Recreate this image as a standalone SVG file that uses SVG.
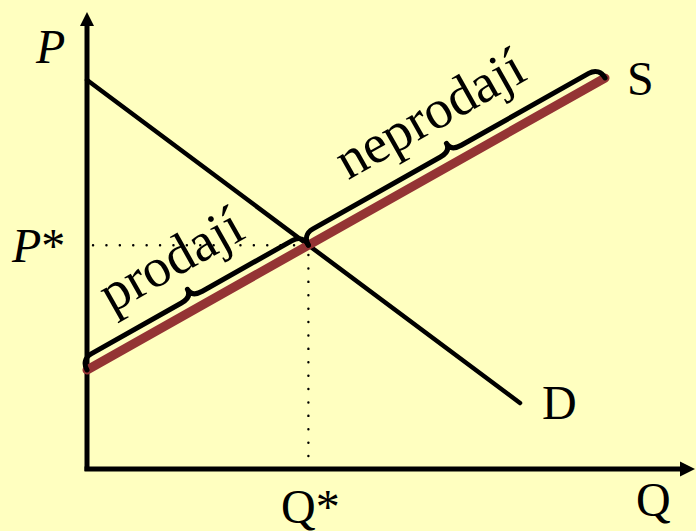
<svg xmlns="http://www.w3.org/2000/svg" width="696" height="531" viewBox="0 0 696 531">
<style>
text{font-family:'Liberation Serif','DejaVu Serif','Noto Serif','Times New Roman',serif;font-size:48px;fill:#000}
.it{font-style:italic}
.rot{font-size:55px}
.ax{stroke:#000;stroke-width:5;fill:none}
.brace{stroke:#000;stroke-width:5;fill:none;stroke-linecap:round;stroke-linejoin:round}
.dot{stroke:#000;stroke-width:2.4;stroke-dasharray:0.1 13.3;stroke-linecap:round;fill:none}
</style>
<rect width="696" height="531" fill="#FFFFC0"/>
<g id="connectors">
<line class="ax" x1="87" y1="471" x2="87" y2="24"/>
<polygon points="87,12 80,26 94,26" fill="#000"/>
<line class="ax" x1="84.5" y1="469" x2="682" y2="469"/>
<polygon points="695,469 680,461.5 680,476.5" fill="#000"/>
<line class="dot" x1="93" y1="245.2" x2="305" y2="245.2"/>
<line class="dot" x1="308.4" y1="255" x2="308.4" y2="466"/>
</g>
<g id="demand">
<line x1="87" y1="80" x2="520" y2="403" stroke="#000" stroke-width="4.5" stroke-linecap="round"/>
</g>
<g id="supply">
<line x1="87" y1="370" x2="605" y2="78" stroke="#943434" stroke-width="9" stroke-linecap="round"/>
</g>
<g id="brace-prodaji" transform="translate(87,370) rotate(-29.41)">
<path class="brace" d="M0,0 C0,-7 4,-12 12,-12 L115.1,-12 C123.1,-12 127.1,-15 127.1,-21 C127.1,-15 131.1,-12 139.1,-12 L242.2,-12 C250.2,-12 254.2,-7 254.2,0"/>
<text class="rot" x="127.1" y="-37" text-anchor="middle">prodají</text>
</g>
<g id="brace-neprodaji" transform="translate(308.4,245.2) rotate(-29.41)">
<path class="brace" d="M0,0 C0,-7 4,-12 12,-12 L158.25,-12 C166.25,-12 170.25,-15 170.25,-21 C170.25,-15 174.25,-12 182.25,-12 L328.5,-12 C336.5,-12 340.5,-7 340.5,0"/>
<text class="rot" x="170.25" y="-37" text-anchor="middle">neprodají</text>
</g>
<g id="labels">
<text class="it" x="36" y="63">P</text>
<text x="12" y="262"><tspan class="it">P</tspan>*</text>
<text x="281" y="523">Q*</text>
<text x="636" y="516">Q</text>
<text x="627" y="95">S</text>
<text x="542" y="419">D</text>
</g>
</svg>
